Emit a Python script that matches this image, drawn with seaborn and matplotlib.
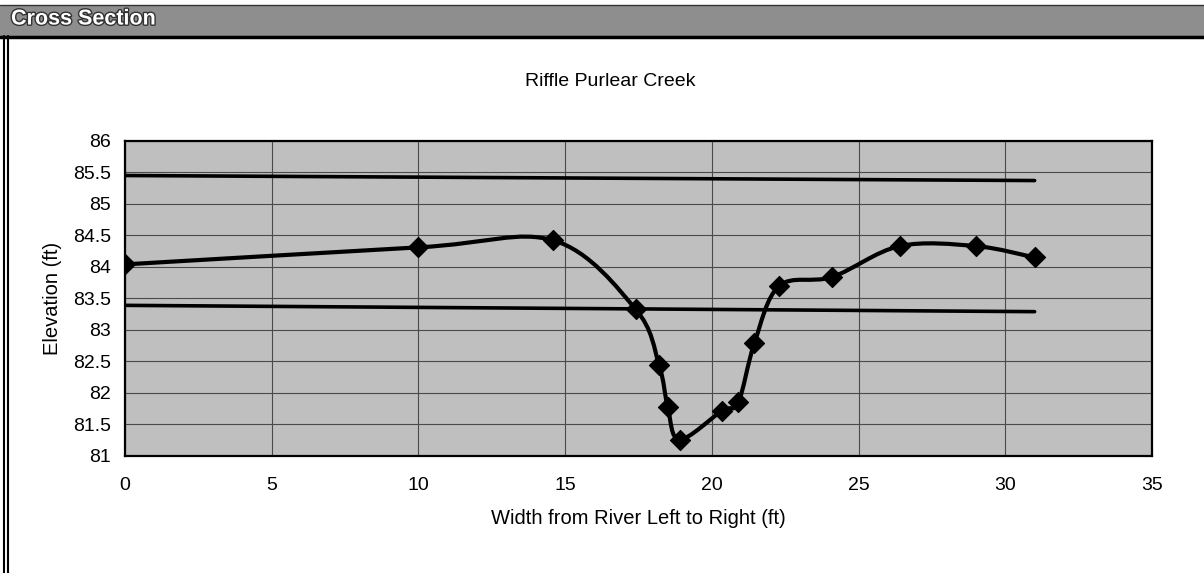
import numpy as np
import pandas as pd
import matplotlib
matplotlib.use("Agg")
import matplotlib.pyplot as plt
import matplotlib.patheffects as pe
from matplotlib.path import Path
from matplotlib.patches import PathPatch, Rectangle
import seaborn as sns

# survey points across the riffle
width_ft = [0.0, 10.0, 14.6, 17.4, 18.2, 18.5, 18.9, 20.35, 20.9, 21.45, 22.3, 24.1, 26.4, 29.0, 31.0]
elev_ft = [84.04, 84.31, 84.42, 83.33, 82.45, 81.77, 81.26, 81.72, 81.85, 82.79, 83.70, 83.84, 84.33, 84.33, 84.15]

# two reference lines (bankfull / water surface)
ref_x = [0.0, 31.0]
ref_upper = [85.45, 85.37]
ref_lower = [83.39, 83.29]

x_ticks = [0, 5, 10, 15, 20, 25, 30, 35]
y_ticks = [81, 81.5, 82, 82.5, 83, 83.5, 84, 84.5, 85, 85.5, 86]

sns.set_theme(style="white")
plt.rcParams["font.family"] = ["Liberation Sans", "DejaVu Sans"]

df = pd.DataFrame({"x": width_ft, "y": elev_ft})
ref = pd.DataFrame({"x": ref_x, "upper": ref_upper, "lower": ref_lower})

fig = plt.figure(figsize=(12.04, 5.73), dpi=100)
ax = fig.add_axes([0.1038, 0.2042, 0.8530, 0.5500])
ax.set_facecolor("#bfbfbf")

# smoothed line like Excel (Catmull-Rom as bezier segments)
pts = np.column_stack([width_ft, elev_ft])
verts = [tuple(pts[0])]
codes = [Path.MOVETO]
n = len(pts)
for i in range(n - 1):
    p0 = pts[max(i - 1, 0)]
    p1 = pts[i]
    p2 = pts[i + 1]
    p3 = pts[min(i + 2, n - 1)]
    c1 = p1 + (p2 - p0) / 6.0
    c2 = p2 - (p3 - p1) / 6.0
    verts += [tuple(c1), tuple(c2), tuple(p2)]
    codes += [Path.CURVE4] * 3
ax.add_patch(PathPatch(Path(verts, codes), facecolor="none", edgecolor="black", lw=3.0, zorder=3))

sns.lineplot(data=ref, x="x", y="upper", color="black", lw=2.6, ax=ax, zorder=3)
sns.lineplot(data=ref, x="x", y="lower", color="black", lw=2.6, ax=ax, zorder=3)
sns.scatterplot(data=df, x="x", y="y", marker="D", s=105, color="black", edgecolor="black", ax=ax, zorder=4)

ax.set_xlim(0, 35)
ax.set_ylim(81, 86)
ax.set_xticks(x_ticks)
ax.set_yticks(y_ticks)
ax.set_xticklabels([str(t) for t in x_ticks])
ax.set_yticklabels([f"{t:g}" for t in y_ticks])
ax.grid(True, color="#4a4a4a", lw=0.8)
ax.set_axisbelow(True)
for s in ax.spines.values():
    s.set_color("black")
    s.set_linewidth(1.6)
ax.tick_params(axis="both", direction="out", length=4, width=1, color="black",
               labelsize=14, labelcolor="black", pad=6)
ax.tick_params(axis="x", pad=11)

ax.set_xlabel("Width from River Left to Right (ft)", fontsize=14.5, color="black", labelpad=11)
ax.set_ylabel("Elevation (ft)", fontsize=14.5, color="black", labelpad=8)
fig.text(0.507, 1 - 81 / 573, "Riffle Purlear Creek", ha="center", va="center", fontsize=14, color="black")

# window frame: header bar and left double border
fig.patches.append(Rectangle((0, 1 - 36 / 573), 1, 30 / 573, transform=fig.transFigure,
                             facecolor="#8e8e8e", edgecolor="none", zorder=0))
fig.lines.append(plt.Line2D([0, 1], [1 - 37 / 573, 1 - 37 / 573], transform=fig.transFigure, color="black", lw=2.5))
fig.lines.append(plt.Line2D([0, 1], [1 - 5 / 573, 1 - 5 / 573], transform=fig.transFigure, color="#333333", lw=1))
fig.lines.append(plt.Line2D([4 / 1204, 4 / 1204], [0, 1 - 36 / 573], transform=fig.transFigure, color="black", lw=1.5))
fig.lines.append(plt.Line2D([8 / 1204, 8 / 1204], [0, 1 - 36 / 573], transform=fig.transFigure, color="black", lw=1.5))
fig.text(11 / 1204, 1 - 19 / 573, "Cross Section", ha="left", va="center", fontsize=15.5,
         fontweight="bold", color="white",
         path_effects=[pe.withStroke(linewidth=2, foreground="#333333")])

fig.savefig("out.png", dpi=100)
